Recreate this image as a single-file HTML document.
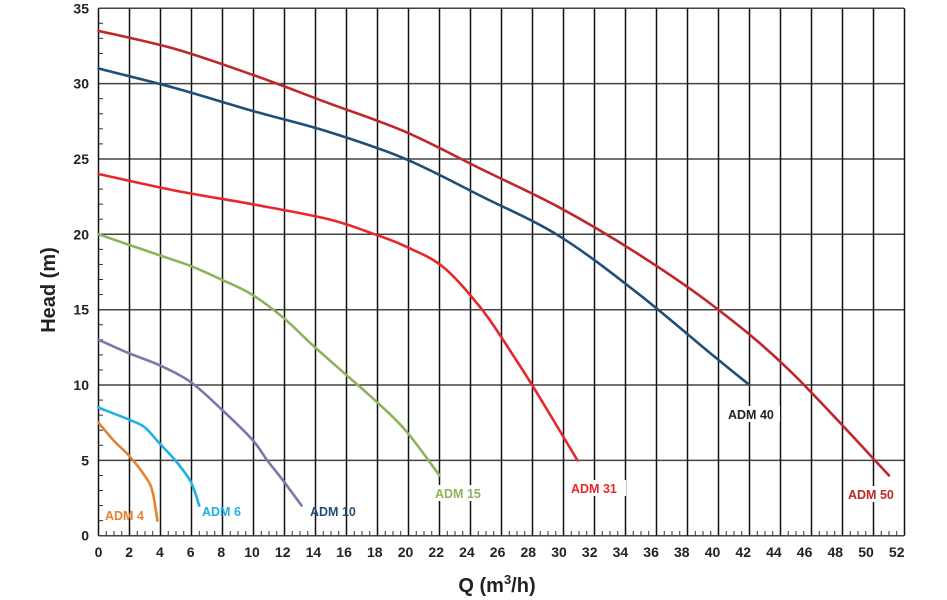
<!DOCTYPE html>
<html><head><meta charset="utf-8"><style>
body{margin:0;background:#fff;}
svg{display:block;font-family:"Liberation Sans",sans-serif;}
</style></head><body>
<svg width="947" height="600" viewBox="0 0 947 600" xmlns="http://www.w3.org/2000/svg">
<g id="grid" stroke-width="1.5">
<g stroke="#444">
<line x1="98.5" x2="904" y1="535.7" y2="535.7"/>
<line x1="98.5" x2="904" y1="460.4" y2="460.4"/>
<line x1="98.5" x2="904" y1="385" y2="385"/>
<line x1="98.5" x2="904" y1="309.7" y2="309.7"/>
<line x1="98.5" x2="904" y1="234.3" y2="234.3"/>
<line x1="98.5" x2="904" y1="159" y2="159"/>
<line x1="98.5" x2="904" y1="83.6" y2="83.6"/>
<line x1="98.5" x2="904" y1="8.3" y2="8.3"/>
</g>
<g stroke="#111" id="vl"></g>
</g>
<g id="ticks" stroke="#333" stroke-width="1"></g>
<g id="curves" fill="none" stroke-width="2.6" stroke-linejoin="round" stroke-linecap="round"></g>
<g font-weight="bold" font-size="14" fill="#222" text-anchor="middle" id="xl"></g>
<g font-weight="bold" font-size="14" fill="#222" text-anchor="end" id="yl"></g>
<text x="55" y="290" transform="rotate(-90 55 290)" font-size="20" font-weight="bold" text-anchor="middle" fill="#222">Head (m)</text>
<text x="497" y="592" font-size="20" font-weight="bold" text-anchor="middle" fill="#222">Q (m<tspan font-size="13" dy="-8">3</tspan><tspan dy="8">/h)</tspan></text>
<g font-size="12.5" font-weight="bold">
<text x="105" y="520" fill="#e5832b">ADM 4</text>
<text x="202" y="516" fill="#1fb0e6">ADM 6</text>
<text x="310" y="516" fill="#1f4e79">ADM 10</text>
<rect x="432" y="485" width="58" height="16" fill="#fff"/>
<text x="435" y="498" fill="#8db35a">ADM 15</text>
<rect x="568" y="480" width="58" height="16" fill="#fff"/>
<text x="571" y="493" fill="#e8272d">ADM 31</text>
<rect x="726" y="406" width="54" height="16" fill="#fff"/>
<text x="728" y="419" fill="#222">ADM 40</text>
<rect x="846" y="486" width="54" height="16" fill="#fff"/>
<text x="848" y="499" fill="#c0272d">ADM 50</text>
</g>
</svg>
<script>
const X=v=>98.5+v*15.5, Y=v=>535.7-v*15.07;
const ns="http://www.w3.org/2000/svg";
function el(p,t,a,txt){const e=document.createElementNS(ns,t);for(const k in a)e.setAttribute(k,a[k]);if(txt!==undefined)e.textContent=txt;document.getElementById(p).appendChild(e);}
for(let i=0;i<=52;i+=2){el("vl","line",{x1:X(i),x2:X(i),y1:8.3,y2:535.7});el("xl","text",{x:98.5+i*15.35,y:557},String(i));}
for(let i=0;i<=52;i+=0.5){if(i%2)el("ticks","line",{x1:X(i),x2:X(i),y1:535.7,y2:531});}
for(let i=0;i<=35;i++){if(i%5)el("ticks","line",{x1:98.5,x2:103,y1:Y(i),y2:Y(i)});}
for(let i=0;i<=35;i+=5)el("yl","text",{x:89,y:Y(i)+5},String(i));
const C=[
["#c0272d",[[0,33.5],[5,32.3],[10,30.6],[15,28.7],[20,26.8],[25,24.3],[30,21.8],[35,18.8],[40,15.3],[45,11],[51.0,4]]],
["#1f4e79",[[0,31],[5,29.7],[10,28.2],[15,26.8],[20,25],[25,22.5],[30,19.9],[35,16.2],[40,12],[42.0,10]]],
["#e8272d",[[0,24],[5,22.9],[10,22],[15,21],[18,20],[20,19.2],[22.5,17.8],[25,15],[27,12],[28.5,9.6],[30.9,5]]],
["#8db35a",[[0,20],[4,18.6],[6,17.9],[8,17],[10,16],[12,14.5],[14,12.6],[16,10.8],[18,9],[20,7],[22.0,4]]],
["#7f76a8",[[0,13],[2,12.1],[4,11.3],[6,10.2],[8,8.4],[10,6.4],[11,5],[12,3.7],[13.1,2]]],
["#1fb0e6",[[0,8.5],[2,7.7],[3,7.2],[4,6.1],[5,5],[6,3.6],[6.5,2]]],
["#e5832b",[[0,7.5],[1,6.3],[2,5.3],[3,4],[3.5,3],[3.8,1]]]];
for(const c of C)c[1]=c[1].map((a,i,arr)=>[i==arr.length-1?a[0]:a[0]*0.99,a[1]]);
function path(p){const q=p.map(a=>[X(a[0]),Y(a[1])]);let d="M"+q[0];for(let i=0;i<q.length-1;i++){const p0=q[i-1]||q[i],p1=q[i],p2=q[i+1],p3=q[i+2]||p2;const c1=[p1[0]+(p2[0]-p0[0])/6,p1[1]+(p2[1]-p0[1])/6],c2=[p2[0]-(p3[0]-p1[0])/6,p2[1]-(p3[1]-p1[1])/6];d+=" C"+c1+" "+c2+" "+p2;}return d;}
for(const [c,p] of C)el("curves","path",{stroke:c,d:path(p)});
</script>
</body></html>
